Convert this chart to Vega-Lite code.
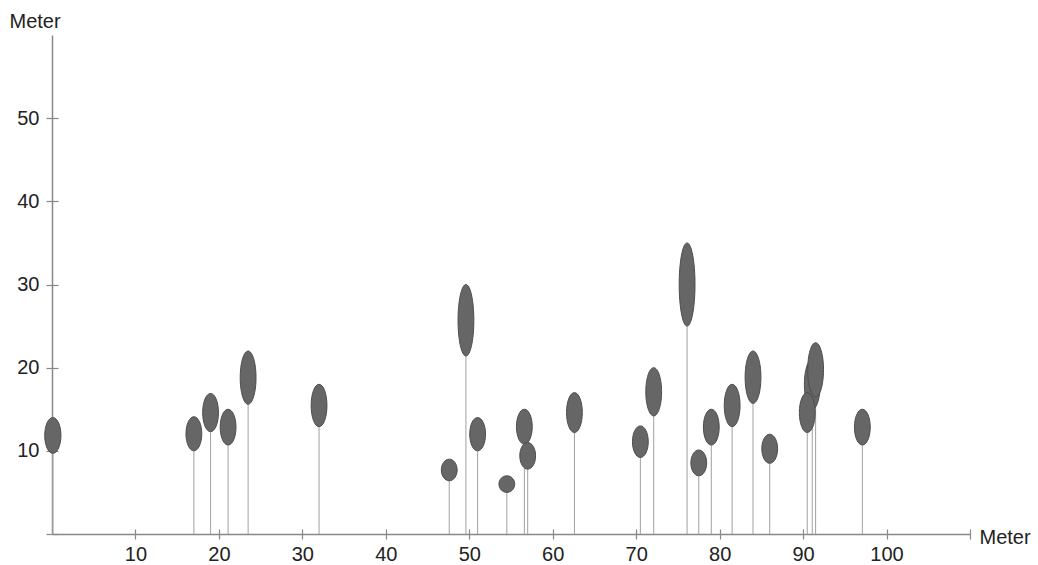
{
  "$schema": "https://vega.github.io/schema/vega-lite/v6.json",
  "width": 918,
  "height": 499,
  "autosize": {"type": "none"},
  "padding": {"left": 52, "top": 35, "right": 68, "bottom": 31},
  "background": "white",
  "data": {
    "values": [
      {"x": 0.1, "crownBase": 9.7, "crownLength": 4.3, "crownWidth": 1.95},
      {"x": 17.0, "crownBase": 10.0, "crownLength": 4.1, "crownWidth": 1.9},
      {"x": 19.0, "crownBase": 12.3, "crownLength": 4.6, "crownWidth": 1.9},
      {"x": 21.1, "crownBase": 10.7, "crownLength": 4.3, "crownWidth": 1.9},
      {"x": 23.5, "crownBase": 15.6, "crownLength": 6.4, "crownWidth": 1.9},
      {"x": 32.0, "crownBase": 12.9, "crownLength": 5.1, "crownWidth": 1.9},
      {"x": 47.6, "crownBase": 6.4, "crownLength": 2.6, "crownWidth": 1.9},
      {"x": 49.6, "crownBase": 21.4, "crownLength": 8.6, "crownWidth": 1.9},
      {"x": 51.0, "crownBase": 10.0, "crownLength": 4.0, "crownWidth": 1.9},
      {"x": 54.5, "crownBase": 5.0, "crownLength": 2.0, "crownWidth": 1.9},
      {"x": 56.6, "crownBase": 10.8, "crownLength": 4.2, "crownWidth": 1.9},
      {"x": 57.0, "crownBase": 7.8, "crownLength": 3.2, "crownWidth": 1.9},
      {"x": 62.6, "crownBase": 12.2, "crownLength": 4.8, "crownWidth": 1.9},
      {"x": 70.5, "crownBase": 9.2, "crownLength": 3.8, "crownWidth": 1.9},
      {"x": 72.1, "crownBase": 14.2, "crownLength": 5.8, "crownWidth": 1.9},
      {"x": 76.1, "crownBase": 25.0, "crownLength": 10.0, "crownWidth": 1.9},
      {"x": 77.5, "crownBase": 7.0, "crownLength": 3.1, "crownWidth": 1.9},
      {"x": 79.0, "crownBase": 10.7, "crownLength": 4.3, "crownWidth": 1.9},
      {"x": 81.5, "crownBase": 12.9, "crownLength": 5.1, "crownWidth": 1.9},
      {"x": 84.0, "crownBase": 15.7, "crownLength": 6.3, "crownWidth": 1.9},
      {"x": 86.0, "crownBase": 8.5, "crownLength": 3.5, "crownWidth": 1.9},
      {"x": 91.1, "crownBase": 15.0, "crownLength": 6.0, "crownWidth": 1.9},
      {"x": 90.5, "crownBase": 12.2, "crownLength": 4.8, "crownWidth": 1.9},
      {"x": 91.5, "crownBase": 16.5, "crownLength": 6.5, "crownWidth": 1.9},
      {"x": 97.1, "crownBase": 10.7, "crownLength": 4.3, "crownWidth": 1.9}
    ]
  },
  "config": {
    "view": {"stroke": null},
    "axis": {
      "grid": false,
      "labelFont": "Liberation Sans",
      "titleFont": "Liberation Sans",
      "labelFontSize": 20,
      "titleFontSize": 20,
      "titleFontWeight": "normal",
      "labelColor": "#222222",
      "titleColor": "#222222",
      "domainColor": "#888888",
      "domainWidth": 1.5,
      "tickColor": "#888888",
      "tickWidth": 1.2
    }
  },
  "resolve": {"axis": {"x": "independent", "y": "independent"}},
  "layer": [
    {
      "mark": {"type": "rule", "color": "#a0a0a0", "strokeWidth": 1},
      "encoding": {
        "x": {
          "field": "x",
          "type": "quantitative",
          "scale": {"domain": [0, 110], "nice": false, "zero": false},
          "axis": {
            "orient": "bottom",
            "values": [10, 20, 30, 40, 50, 60, 70, 80, 90, 100, 110],
            "labelExpr": "datum.value == 110 ? '' : datum.label",
            "tickSize": 5,
            "labelPadding": 5,
            "title": "Meter",
            "titleX": 927,
            "titleY": 3,
            "titleAlign": "left",
            "titleBaseline": "middle",
            "titleAngle": 0
          }
        },
        "y": {
          "field": "crownBase",
          "type": "quantitative",
          "scale": {"domain": [0, 60], "nice": false},
          "axis": {
            "orient": "left",
            "values": [0, 10, 20, 30, 40, 50],
            "labelExpr": "datum.value == 0 ? '' : datum.label",
            "tickSize": 6,
            "labelPadding": 7,
            "title": "Meter",
            "titleAngle": 0,
            "titleX": -43,
            "titleY": -14,
            "titleAlign": "left",
            "titleBaseline": "middle"
          }
        },
        "y2": {"datum": 0}
      }
    },
    {
      "transform": [
        {"calculate": "'M0,0A' + (datum.crownWidth / datum.crownLength) + ',1 0 1,1 0,-2A' + (datum.crownWidth / datum.crownLength) + ',1 0 1,1 0,0Z'", "as": "crownPath"}
      ],
      "mark": {"type": "point", "filled": true, "fill": "#666666", "stroke": "#4d4d4d", "strokeWidth": 1, "opacity": 1},
      "encoding": {
        "x": {
          "field": "x",
          "type": "quantitative",
          "axis": {
            "orient": "bottom",
            "values": [10, 20, 30, 40, 50, 60, 70, 80, 90, 100, 110],
            "tickSize": -5,
            "labels": false,
            "domain": false,
            "title": null
          }
        },
        "y": {
          "field": "crownBase",
          "type": "quantitative",
          "axis": {
            "orient": "left",
            "values": [0, 10, 20, 30, 40, 50],
            "tickSize": -6,
            "labels": false,
            "domain": false,
            "title": null
          }
        },
        "size": {
          "field": "crownLength",
          "type": "quantitative",
          "scale": {"type": "pow", "exponent": 2, "domain": [0, 10], "range": [0, 6917]},
          "legend": null
        },
        "shape": {"field": "crownPath", "type": "nominal", "scale": null}
      }
    }
  ]
}
